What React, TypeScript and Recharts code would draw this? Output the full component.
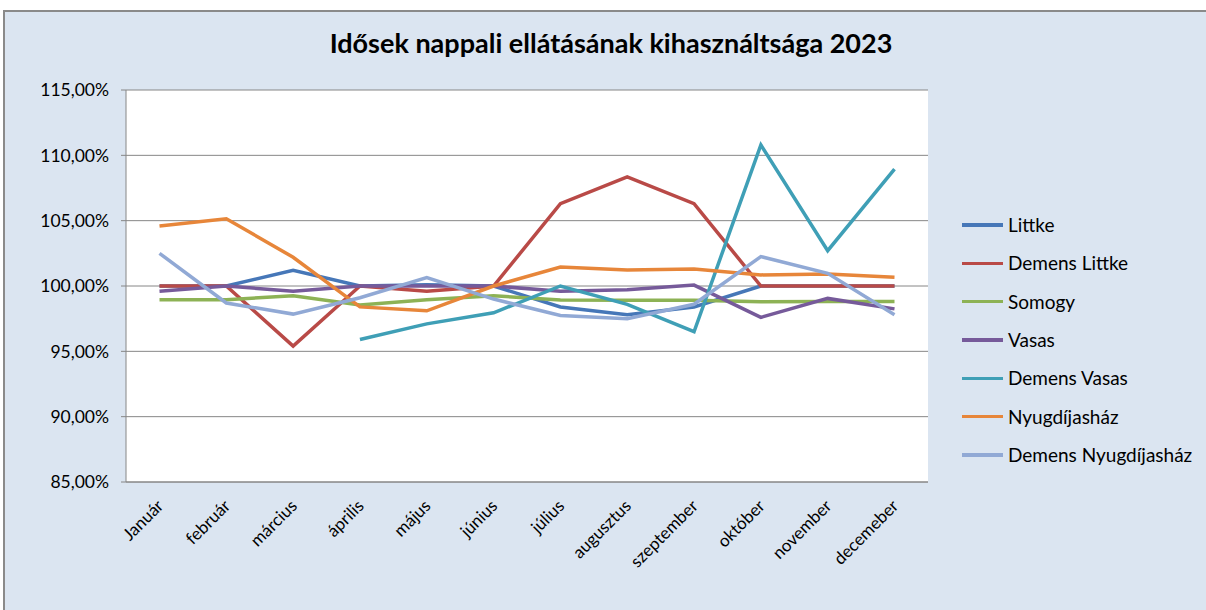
import { CartesianGrid, LineChart, Line, XAxis, YAxis } from 'recharts';

const months = [
    'Január',
    'február',
    'március',
    'április',
    'május',
    'június',
    'július',
    'augusztus',
    'szeptember',
    'október',
    'november',
    'decemeber',
];

const littke = [100.0, 100.0, 101.2, 100.0, 100.1, 100.0, 98.4, 97.8, 98.4, 100.0, 100.0, 100.0];
const demensLittke = [100.0, 100.0, 95.4, 100.0, 99.6, 100.0, 106.3, 108.35, 106.3, 100.0, 100.0, 100.0];
const somogy = [98.95, 98.95, 99.25, 98.55, 98.95, 99.25, 98.93, 98.9, 98.9, 98.8, 98.82, 98.82];
const vasas = [99.6, 100.0, 99.6, 100.0, 100.0, 100.0, 99.6, 99.72, 100.07, 97.6, 99.05, 98.25];
const demensVasas = [null, null, null, 95.9, 97.1, 97.95, 100.0, 98.6, 96.5, 110.8, 102.7, 108.95];
const nyugdijashaz = [104.6, 105.15, 102.2, 98.4, 98.1, 100.0, 101.45, 101.22, 101.3, 100.85, 100.92, 100.67];
const demensNyugdijashaz = [102.5, 98.7, 97.85, 99.1, 100.65, 99.0, 97.75, 97.5, 98.6, 102.25, 100.97, 97.8];

const yTicks = [85, 90, 95, 100, 105, 110, 115];

const series = [
    { key: 'littke', name: 'Littke', values: littke, color: '#4677b8' },
    { key: 'demensLittke', name: 'Demens Littke', values: demensLittke, color: '#b94a47' },
    { key: 'somogy', name: 'Somogy', values: somogy, color: '#8db255' },
    { key: 'vasas', name: 'Vasas', values: vasas, color: '#765a9a' },
    { key: 'demensVasas', name: 'Demens Vasas', values: demensVasas, color: '#3f9fb6' },
    { key: 'nyugdijashaz', name: 'Nyugdíjasház', values: nyugdijashaz, color: '#e7863a' },
    { key: 'demensNyugdijashaz', name: 'Demens Nyugdíjasház', values: demensNyugdijashaz, color: '#91a9d5' },
];

const data = months.map((month, i) => {
    const row: Record<string, string | number | null> = { month };
    series.forEach((s) => {
        row[s.key] = s.values[i];
    });
    return row;
});

const FONT = 'Lato, "Open Sans", sans-serif';

const formatPct = (v: number) => `${v.toFixed(2).replace('.', ',')}%`;

function MonthTick({ x, y, payload }: any) {
    const tx = x + 5;
    const ty = y + 17;
    return (
        <text
            x={tx}
            y={ty}
            transform={`rotate(-45, ${tx}, ${ty})`}
            textAnchor="end"
            fontSize={17}
            fill="#000"
            fontFamily={FONT}
        >
            {payload.value}
        </text>
    );
}

export default function App() {
    return (
        <div
            style={{
                position: 'absolute',
                left: 0,
                top: 0,
                width: 1206,
                height: 610,
                overflow: 'hidden',
                background: '#fff',
                fontFamily: FONT,
            }}
        >
            <div
                style={{
                    position: 'absolute',
                    left: 3,
                    top: 10,
                    width: 1230,
                    height: 640,
                    background: '#dbe5f1',
                    borderTop: '2px solid #8a8a8a',
                    borderLeft: '2px solid #8a8a8a',
                }}
            />
            <div
                style={{
                    position: 'absolute',
                    left: 0,
                    top: 26,
                    width: 1222,
                    textAlign: 'center',
                    fontSize: 27,
                    fontWeight: 700,
                    color: '#000',
                }}
            >
                Idősek nappali ellátásának kihasználtsága 2023
            </div>
            <div style={{ position: 'absolute', left: 0, top: 0 }}>
                <LineChart
                    width={1206}
                    height={610}
                    data={data}
                    margin={{ top: 90, right: 278, bottom: 28, left: 26 }}
                >
                    <CartesianGrid vertical={false} stroke="#868686" fill="#ffffff" />
                    <XAxis
                        dataKey="month"
                        height={100}
                        padding={{ left: 33.5, right: 33.5 }}
                        axisLine={{ stroke: '#868686' }}
                        tickLine={false}
                        interval={0}
                        tick={<MonthTick />}
                    />
                    <YAxis
                        width={100}
                        domain={[85, 115]}
                        ticks={yTicks}
                        tickFormatter={formatPct}
                        axisLine={{ stroke: '#868686' }}
                        tickLine={{ stroke: '#868686' }}
                        tickSize={5}
                        tickMargin={12}
                        tick={{ fontSize: 17.5, fill: '#000', fontFamily: FONT }}
                    />
                    {series.map((s) => (
                        <Line
                            key={s.key}
                            type="linear"
                            dataKey={s.key}
                            name={s.name}
                            stroke={s.color}
                            strokeWidth={3.5}
                            dot={false}
                            isAnimationActive={false}
                        />
                    ))}
                </LineChart>
            </div>
            <div style={{ position: 'absolute', left: 962, top: 206 }}>
                {series.map((s) => (
                    <div
                        key={s.key}
                        style={{ display: 'flex', alignItems: 'center', height: 38.3 }}
                    >
                        <div style={{ width: 41, height: 3.5, background: s.color, marginRight: 5 }} />
                        <span style={{ fontSize: 19, color: '#000', lineHeight: '22px' }}>{s.name}</span>
                    </div>
                ))}
            </div>
        </div>
    );
}
